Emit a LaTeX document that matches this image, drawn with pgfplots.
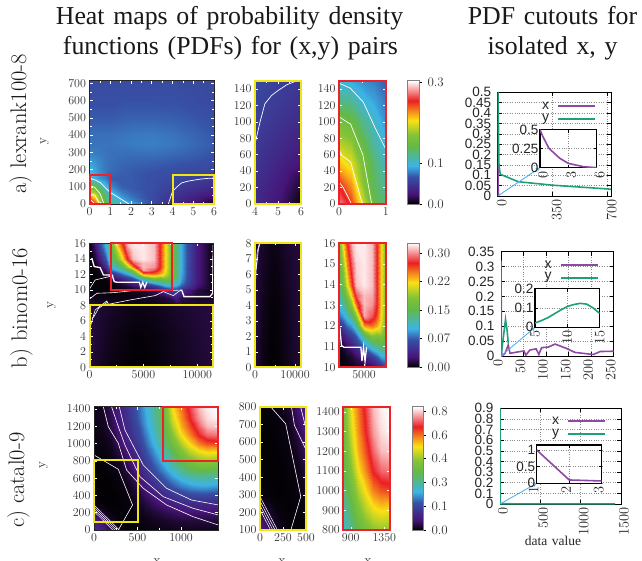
\documentclass[border=0pt]{standalone}
\usepackage{fontspec}
\usepackage{pgfplots}
\usepackage{pgfplotstable}
\pgfplotsset{compat=1.18}
\newfontfamily\hv{Liberation Sans}
\newfontfamily\tm{Liberation Serif}
\newfontfamily\tmt[WordSpace=1.35]{Liberation Serif}
\definecolor{yc}{RGB}{240,230,20}
\definecolor{rc}{RGB}{235,35,40}
\definecolor{pur}{RGB}{142,72,165}
\definecolor{grn}{RGB}{30,160,120}
\definecolor{arr}{RGB}{86,180,233}
\pgfplotstableread[row sep=\\]{
0 0 .28\\ .25 0 .25\\ .5 0 .20\\ .75 0 .145\\ 1 0 .125\\ 1.5 0 .105\\ 2 0 .097\\ 3 0 .066\\ 4 0 .04\\ 5 0 .025\\ 6 0 .003\\
0 25 .25\\ .25 25 .225\\ .5 25 .175\\ .75 25 .135\\ 1 25 .115\\ 1.5 25 .095\\ 2 25 .082\\ 3 25 .065\\ 4 25 .043\\ 5 25 .03\\ 6 25 .012\\
0 50 .215\\ .25 50 .2\\ .5 50 .165\\ .75 50 .13\\ 1 50 .105\\ 1.5 50 .085\\ 2 50 .075\\ 3 50 .065\\ 4 50 .048\\ 5 50 .036\\ 6 50 .025\\
0 75 .185\\ .25 75 .175\\ .5 75 .145\\ .75 75 .115\\ 1 75 .095\\ 1.5 75 .078\\ 2 75 .072\\ 3 75 .065\\ 4 75 .052\\ 5 75 .042\\ 6 75 .033\\
0 100 .16\\ .25 100 .15\\ .5 100 .125\\ .75 100 .105\\ 1 100 .085\\ 1.5 100 .072\\ 2 100 .07\\ 3 100 .066\\ 4 100 .056\\ 5 100 .047\\ 6 100 .04\\
0 125 .125\\ .25 125 .12\\ .5 125 .1\\ .75 125 .09\\ 1 125 .078\\ 1.5 125 .07\\ 2 125 .07\\ 3 125 .066\\ 4 125 .06\\ 5 125 .052\\ 6 125 .046\\
0 150 .098\\ .25 150 .092\\ .5 150 .085\\ .75 150 .08\\ 1 150 .07\\ 1.5 150 .07\\ 2 150 .07\\ 3 150 .066\\ 4 150 .063\\ 5 150 .056\\ 6 150 .05\\
0 200 .095\\ .25 200 .09\\ .5 200 .083\\ .75 200 .078\\ 1 200 .075\\ 1.5 200 .072\\ 2 200 .07\\ 3 200 .068\\ 4 200 .066\\ 5 200 .063\\ 6 200 .06\\
0 250 .088\\ .25 250 .085\\ .5 250 .081\\ .75 250 .078\\ 1 250 .076\\ 1.5 250 .074\\ 2 250 .073\\ 3 250 .072\\ 4 250 .07\\ 5 250 .068\\ 6 250 .065\\
0 300 .08\\ .25 300 .079\\ .5 300 .078\\ .75 300 .077\\ 1 300 .076\\ 1.5 300 .076\\ 2 300 .076\\ 3 300 .077\\ 4 300 .075\\ 5 300 .072\\ 6 300 .068\\
0 350 .077\\ .25 350 .077\\ .5 350 .077\\ .75 350 .077\\ 1 350 .077\\ 1.5 350 .078\\ 2 350 .079\\ 3 350 .08\\ 4 350 .078\\ 5 350 .074\\ 6 350 .07\\
0 400 .076\\ .25 400 .076\\ .5 400 .076\\ .75 400 .076\\ 1 400 .076\\ 1.5 400 .077\\ 2 400 .078\\ 3 400 .079\\ 4 400 .077\\ 5 400 .073\\ 6 400 .069\\
0 500 .07\\ .25 500 .07\\ .5 500 .07\\ .75 500 .07\\ 1 500 .07\\ 1.5 500 .071\\ 2 500 .072\\ 3 500 .072\\ 4 500 .071\\ 5 500 .069\\ 6 500 .066\\
0 600 .066\\ .25 600 .066\\ .5 600 .066\\ .75 600 .066\\ 1 600 .066\\ 1.5 600 .067\\ 2 600 .067\\ 3 600 .067\\ 4 600 .067\\ 5 600 .065\\ 6 600 .062\\
0 716 .064\\ .25 716 .064\\ .5 716 .064\\ .75 716 .064\\ 1 716 .064\\ 1.5 716 .064\\ 2 716 .064\\ 3 716 .064\\ 4 716 .064\\ 5 716 .063\\ 6 716 .062\\
}\tbla
\pgfplotstableread[row sep=\\]{
0 0 .013\\ 500 0 .01\\ 1000 0 .008\\ 1500 0 .006\\ 2000 0 .004\\ 2500 0 .003\\ 3000 0 .002\\ 3500 0 .0015\\ 4000 0 .001\\ 5000 0 .001\\ 6000 0 .002\\ 6500 0 .003\\ 7000 0 .004\\ 7500 0 .005\\ 8000 0 .006\\ 8500 0 .007\\ 9000 0 .008\\ 10000 0 .01\\ 11480 0 .013\\
0 4 .015\\ 500 4 .012\\ 1000 4 .01\\ 1500 4 .008\\ 2000 4 .006\\ 2500 4 .005\\ 3000 4 .004\\ 3500 4 .003\\ 4000 4 .002\\ 5000 4 .002\\ 6000 4 .003\\ 6500 4 .004\\ 7000 4 .005\\ 7500 4 .006\\ 8000 4 .007\\ 8500 4 .008\\ 9000 4 .009\\ 10000 4 .011\\ 11480 4 .014\\
0 8 .014\\ 500 8 .012\\ 1000 8 .011\\ 1500 8 .01\\ 2000 8 .009\\ 2500 8 .008\\ 3000 8 .007\\ 3500 8 .006\\ 4000 8 .005\\ 5000 8 .005\\ 6000 8 .006\\ 6500 8 .007\\ 7000 8 .008\\ 7500 8 .009\\ 8000 8 .01\\ 8500 8 .01\\ 9000 8 .011\\ 10000 8 .012\\ 11480 8 .014\\
0 9 .006\\ 500 9 .005\\ 1000 9 .005\\ 1500 9 .004\\ 2000 9 .004\\ 2500 9 .004\\ 3000 9 .004\\ 3500 9 .004\\ 4000 9 .005\\ 5000 9 .006\\ 6000 9 .008\\ 6500 9 .01\\ 7000 9 .012\\ 7500 9 .016\\ 8000 9 .03\\ 8500 9 .015\\ 9000 9 .012\\ 10000 9 .008\\ 11480 9 .008\\
0 10 .003\\ 500 10 .002\\ 1000 10 .002\\ 1500 10 .002\\ 2000 10 .002\\ 2500 10 .003\\ 3000 10 .003\\ 3500 10 .005\\ 4000 10 .008\\ 5000 10 .012\\ 6000 10 .02\\ 6500 10 .03\\ 7000 10 .045\\ 7500 10 .06\\ 8000 10 .065\\ 8500 10 .045\\ 9000 10 .03\\ 10000 10 .015\\ 11480 10 .004\\
0 10.5 .002\\ 500 10.5 .002\\ 1000 10.5 .002\\ 1500 10.5 .002\\ 2000 10.5 .002\\ 2500 10.5 .004\\ 3000 10.5 .008\\ 3500 10.5 .012\\ 4000 10.5 .02\\ 5000 10.5 .035\\ 6000 10.5 .055\\ 6500 10.5 .075\\ 7000 10.5 .095\\ 7500 10.5 .10\\ 8000 10.5 .095\\ 8500 10.5 .075\\ 9000 10.5 .055\\ 10000 10.5 .025\\ 11480 10.5 .003\\
0 11 .002\\ 500 11 .002\\ 1000 11 .002\\ 1500 11 .002\\ 2000 11 .005\\ 2500 11 .01\\ 3000 11 .02\\ 3500 11 .03\\ 4000 11 .045\\ 5000 11 .08\\ 6000 11 .115\\ 6500 11 .125\\ 7000 11 .14\\ 7500 11 .135\\ 8000 11 .12\\ 8500 11 .09\\ 9000 11 .065\\ 10000 11 .03\\ 11480 11 .003\\
0 11.5 .002\\ 500 11.5 .002\\ 1000 11.5 .002\\ 1500 11.5 .005\\ 2000 11.5 .02\\ 2500 11.5 .03\\ 3000 11.5 .045\\ 3500 11.5 .06\\ 4000 11.5 .075\\ 5000 11.5 .135\\ 6000 11.5 .18\\ 6500 11.5 .17\\ 7000 11.5 .18\\ 7500 11.5 .16\\ 8000 11.5 .135\\ 8500 11.5 .095\\ 9000 11.5 .068\\ 10000 11.5 .03\\ 11480 11.5 .002\\
0 12 .002\\ 500 12 .002\\ 1000 12 .004\\ 1500 12 .012\\ 2000 12 .04\\ 2500 12 .06\\ 3000 12 .08\\ 3500 12 .095\\ 4000 12 .125\\ 5000 12 .24\\ 6000 12 .25\\ 6500 12 .235\\ 7000 12 .21\\ 7500 12 .175\\ 8000 12 .14\\ 8500 12 .098\\ 9000 12 .07\\ 10000 12 .03\\ 11480 12 .002\\
0 12.5 .002\\ 500 12.5 .003\\ 1000 12.5 .008\\ 1500 12.5 .025\\ 2000 12.5 .08\\ 2500 12.5 .095\\ 3000 12.5 .115\\ 3500 12.5 .14\\ 4000 12.5 .185\\ 5000 12.5 .305\\ 6000 12.5 .285\\ 6500 12.5 .26\\ 7000 12.5 .22\\ 7500 12.5 .18\\ 8000 12.5 .14\\ 8500 12.5 .1\\ 9000 12.5 .07\\ 10000 12.5 .03\\ 11480 12.5 .002\\
0 13 .002\\ 500 13 .005\\ 1000 13 .015\\ 1500 13 .045\\ 2000 13 .11\\ 2500 13 .12\\ 3000 13 .15\\ 3500 13 .19\\ 4000 13 .25\\ 5000 13 .31\\ 6000 13 .3\\ 6500 13 .27\\ 7000 13 .225\\ 7500 13 .18\\ 8000 13 .14\\ 8500 13 .1\\ 9000 13 .07\\ 10000 13 .03\\ 11480 13 .002\\
0 13.5 .002\\ 500 13.5 .008\\ 1000 13.5 .025\\ 1500 13.5 .06\\ 2000 13.5 .125\\ 2500 13.5 .14\\ 3000 13.5 .18\\ 3500 13.5 .235\\ 4000 13.5 .285\\ 5000 13.5 .31\\ 6000 13.5 .305\\ 6500 13.5 .27\\ 7000 13.5 .225\\ 7500 13.5 .18\\ 8000 13.5 .14\\ 8500 13.5 .1\\ 9000 13.5 .07\\ 10000 13.5 .03\\ 11480 13.5 .002\\
0 14 .003\\ 500 14 .012\\ 1000 14 .035\\ 1500 14 .075\\ 2000 14 .14\\ 2500 14 .165\\ 3000 14 .215\\ 3500 14 .27\\ 4000 14 .31\\ 5000 14 .32\\ 6000 14 .31\\ 6500 14 .27\\ 7000 14 .225\\ 7500 14 .18\\ 8000 14 .14\\ 8500 14 .1\\ 9000 14 .07\\ 10000 14 .03\\ 11480 14 .002\\
0 15 .004\\ 500 15 .02\\ 1000 15 .055\\ 1500 15 .095\\ 2000 15 .15\\ 2500 15 .19\\ 3000 15 .245\\ 3500 15 .29\\ 4000 15 .315\\ 5000 15 .32\\ 6000 15 .31\\ 6500 15 .27\\ 7000 15 .225\\ 7500 15 .18\\ 8000 15 .14\\ 8500 15 .1\\ 9000 15 .07\\ 10000 15 .03\\ 11480 15 .002\\
0 16 .005\\ 500 16 .03\\ 1000 16 .07\\ 1500 16 .11\\ 2000 16 .17\\ 2500 16 .225\\ 3000 16 .27\\ 3500 16 .31\\ 4000 16 .32\\ 5000 16 .32\\ 6000 16 .31\\ 6500 16 .27\\ 7000 16 .225\\ 7500 16 .18\\ 8000 16 .14\\ 8500 16 .1\\ 9000 16 .07\\ 10000 16 .03\\ 11480 16 .002\\
}\tblb
\pgfplotstableread[row sep=\\]{
0 0 .13\\ 100 0 .085\\ 200 0 .04\\ 300 0 .012\\ 400 0 .004\\ 500 0 .005\\ 600 0 .008\\ 700 0 .01\\ 800 0 .013\\ 900 0 .015\\ 1000 0 .016\\ 1100 0 .017\\ 1200 0 .017\\ 1300 0 .016\\ 1427 0 .015\\
0 100 .09\\ 100 100 .055\\ 200 100 .02\\ 300 100 .006\\ 400 100 .004\\ 500 100 .007\\ 600 100 .012\\ 700 100 .017\\ 800 100 .022\\ 900 100 .027\\ 1000 100 .03\\ 1100 100 .032\\ 1200 100 .033\\ 1300 100 .033\\ 1427 100 .03\\
0 200 .05\\ 100 200 .025\\ 200 200 .008\\ 300 200 .004\\ 400 200 .005\\ 500 200 .011\\ 600 200 .02\\ 700 200 .03\\ 800 200 .04\\ 900 200 .05\\ 1000 200 .058\\ 1100 200 .06\\ 1200 200 .06\\ 1300 200 .06\\ 1427 200 .058\\
0 300 .008\\ 100 300 .005\\ 200 300 .003\\ 300 300 .004\\ 400 300 .008\\ 500 300 .018\\ 600 300 .035\\ 700 300 .055\\ 800 300 .07\\ 900 300 .085\\ 1000 300 .1\\ 1100 300 .105\\ 1200 300 .105\\ 1300 300 .1\\ 1427 300 .095\\
0 400 .004\\ 100 400 .003\\ 200 400 .002\\ 300 400 .005\\ 400 400 .01\\ 500 400 .03\\ 600 400 .055\\ 700 400 .08\\ 800 400 .105\\ 900 400 .13\\ 1000 400 .15\\ 1100 400 .165\\ 1200 400 .17\\ 1300 400 .17\\ 1427 400 .16\\
0 500 .002\\ 100 500 .002\\ 200 500 .003\\ 300 500 .008\\ 400 500 .015\\ 500 500 .045\\ 600 500 .08\\ 700 500 .115\\ 800 500 .15\\ 900 500 .18\\ 1000 500 .21\\ 1100 500 .23\\ 1200 500 .24\\ 1300 500 .24\\ 1427 500 .23\\
0 600 .001\\ 100 600 .002\\ 200 600 .005\\ 300 600 .01\\ 400 600 .03\\ 500 600 .065\\ 600 600 .105\\ 700 600 .15\\ 800 600 .19\\ 900 600 .23\\ 1000 600 .27\\ 1100 600 .3\\ 1200 600 .31\\ 1300 600 .31\\ 1427 600 .3\\
0 700 .002\\ 100 700 .004\\ 200 700 .007\\ 300 700 .015\\ 400 700 .045\\ 500 700 .085\\ 600 700 .13\\ 700 700 .18\\ 800 700 .23\\ 900 700 .28\\ 1000 700 .33\\ 1100 700 .37\\ 1200 700 .39\\ 1300 700 .39\\ 1427 700 .38\\
0 800 .004\\ 100 800 .006\\ 200 800 .01\\ 300 800 .025\\ 400 800 .06\\ 500 800 .1\\ 600 800 .155\\ 700 800 .21\\ 800 800 .27\\ 900 800 .33\\ 1000 800 .39\\ 1100 800 .44\\ 1200 800 .47\\ 1300 800 .48\\ 1427 800 .47\\
0 900 .005\\ 100 900 .008\\ 200 900 .015\\ 300 900 .04\\ 400 900 .08\\ 500 900 .12\\ 600 900 .18\\ 700 900 .24\\ 800 900 .31\\ 900 900 .37\\ 1000 900 .45\\ 1100 900 .51\\ 1200 900 .55\\ 1300 900 .57\\ 1427 900 .56\\
0 1000 .008\\ 100 1000 .01\\ 200 1000 .02\\ 300 1000 .06\\ 400 1000 .095\\ 500 1000 .14\\ 600 1000 .2\\ 700 1000 .27\\ 800 1000 .34\\ 900 1000 .42\\ 1000 1000 .5\\ 1100 1000 .57\\ 1200 1000 .63\\ 1300 1000 .66\\ 1427 1000 .67\\
0 1100 .01\\ 100 1100 .013\\ 200 1100 .03\\ 300 1100 .07\\ 400 1100 .11\\ 500 1100 .16\\ 600 1100 .22\\ 700 1100 .29\\ 800 1100 .37\\ 900 1100 .46\\ 1000 1100 .56\\ 1100 1100 .63\\ 1200 1100 .7\\ 1300 1100 .74\\ 1427 1100 .75\\
0 1200 .012\\ 100 1200 .017\\ 200 1200 .04\\ 300 1200 .08\\ 400 1200 .12\\ 500 1200 .175\\ 600 1200 .24\\ 700 1200 .31\\ 800 1200 .39\\ 900 1200 .5\\ 1000 1200 .6\\ 1100 1200 .67\\ 1200 1200 .74\\ 1300 1200 .79\\ 1427 1200 .8\\
0 1300 .015\\ 100 1300 .02\\ 200 1300 .045\\ 300 1300 .085\\ 400 1300 .13\\ 500 1300 .19\\ 600 1300 .25\\ 700 1300 .32\\ 800 1300 .41\\ 900 1300 .53\\ 1000 1300 .62\\ 1100 1300 .7\\ 1200 1300 .77\\ 1300 1300 .81\\ 1427 1300 .825\\
0 1427 .015\\ 100 1427 .02\\ 200 1427 .05\\ 300 1427 .09\\ 400 1427 .14\\ 500 1427 .2\\ 600 1427 .26\\ 700 1427 .33\\ 800 1427 .42\\ 900 1427 .56\\ 1000 1427 .64\\ 1100 1427 .72\\ 1200 1427 .79\\ 1300 1427 .82\\ 1427 1427 .83\\
}\tblc
\newcommand{\contA}{%
\addplot[white,line width=.7pt] coordinates {(0,147)(.24,141)(.52,124)(.77,93)(.99,68)(1.9,0)};
\addplot[white,line width=.7pt] coordinates {(0,106)(.25,97)(.51,60)(.7,0)};
\addplot[white,line width=.7pt] coordinates {(0,67)(.06,59)(.25,51)(.5,0)};
\addplot[white,line width=.7pt] coordinates {(0,27)(.09,20)(.27,0)};
\addplot[white,line width=.7pt] coordinates {(3.8,0)(4,73)(4.22,100)(4.43,122)(4.72,132)(5,138)(5.38,145)(5.74,149)(6,151)};
}
\newcommand{\contB}{%
\addplot[white,line width=1.3pt] coordinates {(216,14.1)(432,13)(988,12.86)(1296,11.9)(2100,11.9)(2300,11.05)(2592,10.97)(4629,10.97)(4752,10.3)(4938,10.97)(5123,10.3)(5308,10.97)};
\addplot[white,line width=.6pt] coordinates {(0,10.1)(525,11.27)(2222,11.83)};
\addplot[white,line width=.6pt] coordinates {(0,8.8)(679,9.55)(2222,9.63)(4074,9.9)(6080,9.98)(6851,9.85)(8085,9.94)(8548,9.98)};
\addplot[white,line width=1.3pt] coordinates {(8548,9.98)(8764,9.12)(11170,9.12)(11418,9.55)(11480,15.8)};
\addplot[white,line width=.6pt] coordinates {(123,5.46)(525,7.4)(1605,8.56)(1759,8.13)(3765,8.69)(6080,9.25)(6851,9.76)(7777,9.25)(8240,9.76)(8548,9.98)};
\addplot[white,line width=.6pt] coordinates {(216,6.3)(416,6.55)(833,7.6)(1250,8)(1666,8.39)};
}
\newcommand{\contC}{%
\addplot[white,line width=.6pt] coordinates {(107,1427)(164,1197)(279,1004)(374,695)(565,483)(833,290)(1138,154)(1427,58)};
\addplot[white,line width=.6pt] coordinates {(202,1427)(279,1197)(355,984)(527,618)(795,386)(1138,251)(1427,174)};
\addplot[white,line width=.6pt] coordinates {(290,1427)(355,1158)(565,753)(833,483)(1119,347)(1427,290)};
\addplot[white,line width=.6pt] coordinates {(0,868)(279,703)(443,290)(279,0)};
\addplot[white,line width=.5pt] coordinates {(0,290)(290,0)};
\addplot[white,line width=.5pt] coordinates {(0,265)(265,0)};
\addplot[white,line width=.5pt] coordinates {(0,240)(240,0)};
\addplot[white,line width=.5pt] coordinates {(0,215)(215,0)};
}
\pgfplotsset{
 colormap={hm}{rgb255(0pt)=(0,0,0); rgb255(8pt)=(70,20,120); rgb255(22pt)=(55,80,165); rgb255(31pt)=(60,180,230); rgb255(47pt)=(100,185,70); rgb255(56pt)=(130,195,55); rgb255(68pt)=(250,225,20); rgb255(76pt)=(245,130,30); rgb255(84pt)=(235,30,35); rgb255(100pt)=(255,255,255)},
 heat/.style={scale only axis, axis on top, anchor=south west, colormap name=hm,
   tick align=inside, tick style={white,line width=.5pt}, major tick length=3pt, minor tick length=2pt,
   tick label style={font=\fontsize{13}{13}\selectfont,color=black!80},
   /pgf/number format/1000 sep={}, scaled ticks=false,
   xticklabel pos=bottom, yticklabel pos=left,
   axis line style={black!85,line width=.7pt}, xlabel=, enlargelimits=false},
 bar/.style={scale only axis, axis on top, anchor=south west, colormap name=hm, xmin=0,xmax=1,xtick=\empty,
   ytick pos=right, yticklabel pos=right, tick align=outside, tick style={black,line width=.6pt}, major tick length=3pt,
   tick label style={font=\fontsize{13}{13}\selectfont,color=black!80},
   y tick label style={xshift=2pt},
   axis line style={black!50,line width=.8pt}, enlargelimits=false},
 gp/.style={scale only axis, anchor=south west, axis background/.style={fill=white},
   tick align=inside, tick style={black,line width=.5pt}, major tick length=4pt,
   grid=major, grid style={black!45,dotted,line width=.5pt},
   tick label style={font=\hv\fontsize{13.5}{13.5}\selectfont,color=black!85},
   x tick label style={rotate=90,anchor=east},
   y tick label style={xshift=-3pt},
   /pgf/number format/1000 sep={}, scaled ticks=false,
   axis line style={black,line width=.8pt}, enlargelimits=false, clip=true},
 ins/.style={gp, axis line style={black,line width=1.2pt}, major tick length=3pt, y tick label style={xshift=5pt}},
 pl/.style={line width=1.6pt}
}
\newcommand{\lgd}[5]{% x-text, y-row1, y-row2 (picture coordinates), line start, line end
\node[font=\hv\fontsize{14}{14}\selectfont,color=black!85] at (#1,#2) {x};
\node[font=\hv\fontsize{14}{14}\selectfont,color=black!85] at (#1,#3) {y};
\fill[pur] (#4,#2-1.1) rectangle (#5,#2+1.1);
\fill[grn] (#4,#3-1.1) rectangle (#5,#3+1.1);
}
\begin{document}
\begin{tikzpicture}[x=1pt,y=1pt]
\useasboundingbox (0,0) rectangle (642,560);
\fill[white] (0,0) rectangle (642,560);
% --- a
\begin{axis}[heat, at={(89.5pt,356pt)}, width=124.5pt, height=123.3pt, xmin=0,xmax=6,ymin=0,ymax=716,
  xtick={0,1,...,6}, ytick={0,100,...,700}, minor tick num=1, point meta min=0, point meta max=.305]
\addplot[surf,shader=interp,mesh/cols=11,point meta=explicit] table[x index=0,y index=1,meta index=2]{\tbla};
\contA
\end{axis}
\begin{axis}[heat, at={(255pt,356pt)}, width=46pt, height=123.3pt, xmin=4,xmax=6,ymin=0,ymax=150,
  xtick={4,5,6}, ytick={0,20,...,140}, minor x tick num=1, point meta min=0, point meta max=.305,
  axis line style={yc,line width=2pt}]
\addplot[surf,shader=interp,mesh/cols=11,point meta=explicit] table[x index=0,y index=1,meta index=2]{\tbla};
\contA
\end{axis}
\begin{axis}[heat, at={(339pt,356pt)}, width=46.7pt, height=123.3pt, xmin=0,xmax=1,ymin=0,ymax=150,
  xtick={0,1}, ytick={0,20,...,140}, minor x tick num=1, point meta min=0, point meta max=.305,
  axis line style={rc,line width=2pt}]
\addplot[surf,shader=interp,mesh/cols=11,point meta=explicit] table[x index=0,y index=1,meta index=2]{\tbla};
\contA
\end{axis}
\begin{axis}[bar, at={(407.7pt,356pt)}, width=11.3pt, height=123.3pt, ymin=0,ymax=.305,
  ytick={0,.1,.3}, yticklabels={0.0,0.1,0.3}, point meta min=0, point meta max=.305]
\addplot[surf,shader=interp,mesh/cols=2,point meta=y] coordinates {(0,0)(1,0)(0,.305)(1,.305)};
\end{axis}
\begin{axis}[gp, at={(497.7pt,364pt)}, width=113.3pt, height=103.7pt, xmin=0,xmax=721,ymin=0,ymax=.5,
  xtick={0,350,700}, ytick={0,.05,...,.5}, yticklabels={0,0.05,0.1,0.15,0.2,0.25,0.3,0.35,0.4,0.45,0.5},
  x tick label style={yshift=-4pt}]
\addplot[pur,pl] coordinates {(1,.5)(1,.25)(2,.12)(3,.057)(4.6,.013)(6,.0)};
\addplot[grn,pl] coordinates {(2,.5)(8,.15)(16,.105)(130,.069)(350,.052)(700,.034)(721,.032)};
\end{axis}
\lgd{545.7}{454.3}{440.7}{557.7}{595}
\draw[arr,line width=.9pt,-stealth] (497.7,364) -- (540,392.3);
\begin{axis}[ins, at={(540pt,392.3pt)}, width=56.7pt, height=38pt, xmin=0,xmax=6,ymin=0,ymax=.5,
  xtick={0,3,6}, ytick={0,.25,.5}, yticklabels={0,0.25,0.5}, x tick label style={yshift=-3pt}]
\addplot[pur,pl] coordinates {(0,.5)(.3,.41)(.95,.254)(2.1,.123)(3,.057)(4.6,.013)(6,.0)};
\end{axis}
% --- b
\begin{axis}[heat, at={(89.5pt,192.7pt)}, width=123.8pt, height=124pt, xmin=0,xmax=11480,ymin=0,ymax=16,
  xtick={0,5000,10000}, ytick={0,2,...,16}, minor tick num=1, point meta min=0, point meta max=.325]
\addplot[surf,shader=interp,mesh/cols=19,point meta=explicit] table[x index=0,y index=1,meta index=2]{\tblb};
\contB
\end{axis}
\begin{axis}[heat, at={(255pt,192.7pt)}, width=46pt, height=124pt, xmin=0,xmax=11480,ymin=0,ymax=8,
  xtick={0,10000}, ytick={0,1,...,8}, minor x tick num=1, point meta min=0, point meta max=.325,
  axis line style={yc,line width=2pt}]
\addplot[surf,shader=interp,mesh/cols=19,point meta=explicit] table[x index=0,y index=1,meta index=2]{\tblb};
\contB
\end{axis}
\begin{axis}[heat, at={(339pt,192.7pt)}, width=46.7pt, height=124pt, xmin=2000,xmax=7600,ymin=10,ymax=16,
  xtick={5000}, ytick={10,11,...,16}, minor x tick num=1, point meta min=0, point meta max=.325,
  axis line style={rc,line width=2pt}]
\addplot[surf,shader=interp,mesh/cols=19,point meta=explicit] table[x index=0,y index=1,meta index=2]{\tblb};
\contB
\end{axis}
\begin{axis}[bar, at={(407.7pt,192.7pt)}, width=11.3pt, height=124pt, ymin=0,ymax=.325,
  ytick={0,.075,.15,.225,.3}, yticklabels={0.00,0.07,0.15,0.22,0.30}, point meta min=0, point meta max=.325]
\addplot[surf,shader=interp,mesh/cols=2,point meta=y] coordinates {(0,0)(1,0)(0,.325)(1,.325)};
\end{axis}
\begin{axis}[gp, at={(501pt,204pt)}, width=112.7pt, height=104.3pt, xmin=0,xmax=250,ymin=0,ymax=.35,
  xtick={0,50,...,250}, ytick={0,.05,...,.35}, yticklabels={0,0.05,0.1,0.15,0.2,0.25,0.3,0.35},
  x tick label style={yshift=3pt}]
\addplot[pur,pl] coordinates {(0,.32)(1,.02)(2,0)(9,.009)(16,.037)(20,.009)(35,.013)(51,.017)(55,.003)(64,.02)(78,.024)(84,.005)(90,.028)(105,.03)(120,.04)(146,.025)(164,.012)(205,.005)(220,.015)(250,.016)};
\addplot[grn,pl] coordinates {(0,0)(5,.06)(10,.123)(14,.08)(16,.043)};
\end{axis}
\lgd{548}{295}{282.3}{560.7}{597.7}
\draw[arr,line width=.9pt,-stealth] (501,204) -- (535,232.7);
\begin{axis}[ins, at={(535pt,232.7pt)}, width=64.7pt, height=38.6pt, xmin=5,xmax=15,ymin=0,ymax=.2,
  xtick={5,10,15}, ytick={0,.1,.2}, yticklabels={0,0.1,0.2}]
\addplot[grn,pl] coordinates {(5,.022)(6,.035)(7,.05)(8,.07)(9,.09)(10,.108)(11,.118)(12,.124)(13,.12)(14,.1)(15,.072)};
\end{axis}
% --- c
\begin{axis}[heat, at={(94pt,30pt)}, width=124.3pt, height=123.3pt, xmin=0,xmax=1427,ymin=0,ymax=1427,
  xtick={0,500,1000}, ytick={0,200,...,1400}, minor x tick num=1, point meta min=0, point meta max=.83]
\addplot[surf,shader=interp,mesh/cols=15,point meta=explicit] table[x index=0,y index=1,meta index=2]{\tblc};
\contC
\end{axis}
\begin{axis}[heat, at={(260pt,30pt)}, width=46pt, height=123.3pt, xmin=0,xmax=500,ymin=100,ymax=800,
  xtick={0,250,500}, ytick={100,200,...,800}, point meta min=0, point meta max=.83,
  axis line style={yc,line width=2pt}]
\addplot[surf,shader=interp,mesh/cols=15,point meta=explicit] table[x index=0,y index=1,meta index=2]{\tblc};
\contC
\end{axis}
\begin{axis}[heat, at={(343.3pt,30pt)}, width=46.7pt, height=123.3pt, xmin=800,xmax=1427,ymin=800,ymax=1427,
  xtick={900,1350}, ytick={800,900,...,1400}, point meta min=0, point meta max=.83,
  axis line style={rc,line width=2pt}]
\addplot[surf,shader=interp,mesh/cols=15,point meta=explicit] table[x index=0,y index=1,meta index=2]{\tblc};
\end{axis}
\begin{axis}[bar, at={(412pt,30pt)}, width=11pt, height=123.3pt, ymin=0,ymax=.83,
  ytick={0,.16,.32,.48,.64,.8}, yticklabels={0.0,0.1,0.3,0.4,0.6,0.8}, point meta min=0, point meta max=.83]
\addplot[surf,shader=interp,mesh/cols=2,point meta=y] coordinates {(0,0)(1,0)(0,.83)(1,.83)};
\end{axis}
\begin{axis}[gp, at={(500pt,56pt)}, width=121pt, height=95.7pt, xmin=0,xmax=1500,ymin=0,ymax=.9,
  xtick={0,500,1000,1500}, ytick={0,.1,...,.9}, yticklabels={0,0.1,0.2,0.3,0.4,0.5,0.6,0.7,0.8,0.9},
  x tick label style={yshift=-3pt}]
\addplot[pur,pl] coordinates {(1,.9)(2,.1)(3,.07)};
\addplot[grn,pl] coordinates {(1,.9)(2,.01)(10,.002)(1427,.001)};
\end{axis}
\lgd{555.7}{139.3}{125.7}{568}{605}
\draw[arr,line width=.9pt,-stealth] (500,56) -- (536.7,76.7);
\begin{axis}[ins, at={(536.7pt,76.7pt)}, width=65pt, height=38.3pt, xmin=1,xmax=3,ymin=0,ymax=1.15,
  xtick={1,2,3}, ytick={0,.5,1}, yticklabels={0,0.5,1}, x tick label style={yshift=3pt}]
\addplot[pur,pl] coordinates {(1,1)(2,.1)(3,.07)};
\end{axis}
% --- highlight boxes
\draw[rc,line width=2pt] (89.5,356) rectangle (110.3,385.3);
\draw[yc,line width=2pt] (172.5,356) rectangle (214,385.3);
\draw[rc,line width=2pt] (111,270.2) rectangle (171.7,316.7);
\draw[yc,line width=2pt] (89.5,192.7) rectangle (213.3,254.7);
\draw[yc,line width=2pt] (94,38.3) rectangle (137.7,100);
\draw[rc,line width=2pt] (163.3,99.3) rectangle (218.3,153.3);
% --- text
\node[font=\tmt\fontsize{25.8}{25.8}\selectfont,anchor=base,color=black!90] at (229.5,535) {Heat maps of probability density};
\node[font=\tmt\fontsize{25.8}{25.8}\selectfont,anchor=base,color=black!90] at (230.5,505) {functions (PDFs) for (x,y) pairs};
\node[font=\tmt\fontsize{25.8}{25.8}\selectfont,anchor=base,color=black!90] at (552.5,535) {PDF cutouts for};
\node[font=\tmt\fontsize{25.8}{25.8}\selectfont,anchor=base,color=black!90] at (552.5,505) {isolated x, y};
\node[font=\fontsize{22.5}{22.5}\selectfont,rotate=90,anchor=base,color=black!90] at (26,436) {a) lexrank100-8};
\node[font=\fontsize{22.5}{22.5}\selectfont,rotate=90,anchor=base,color=black!90] at (27,252) {b) binom0-16};
\node[font=\fontsize{22.5}{22.5}\selectfont,rotate=90,anchor=base,color=black!90] at (24,80) {c) catal0-9};
\node[font=\fontsize{13}{13}\selectfont,rotate=90,anchor=base,color=black!85] at (46,419) {y};
\node[font=\fontsize{13}{13}\selectfont,rotate=90,anchor=base,color=black!85] at (53,255) {y};
\node[font=\fontsize{13}{13}\selectfont,rotate=90,anchor=base,color=black!85] at (45,95) {y};
\node[font=\fontsize{13}{13}\selectfont,anchor=base,color=black!85] at (157,-4.5) {x};
\node[font=\fontsize{13}{13}\selectfont,anchor=base,color=black!85] at (282,-4.5) {x};
\node[font=\fontsize{13}{13}\selectfont,anchor=base,color=black!85] at (368,-4.5) {x};
\node[font=\tm\fontsize{13.5}{13.5}\selectfont,anchor=base,color=black!85] at (553,15) {data value};
\end{tikzpicture}
\end{document}
